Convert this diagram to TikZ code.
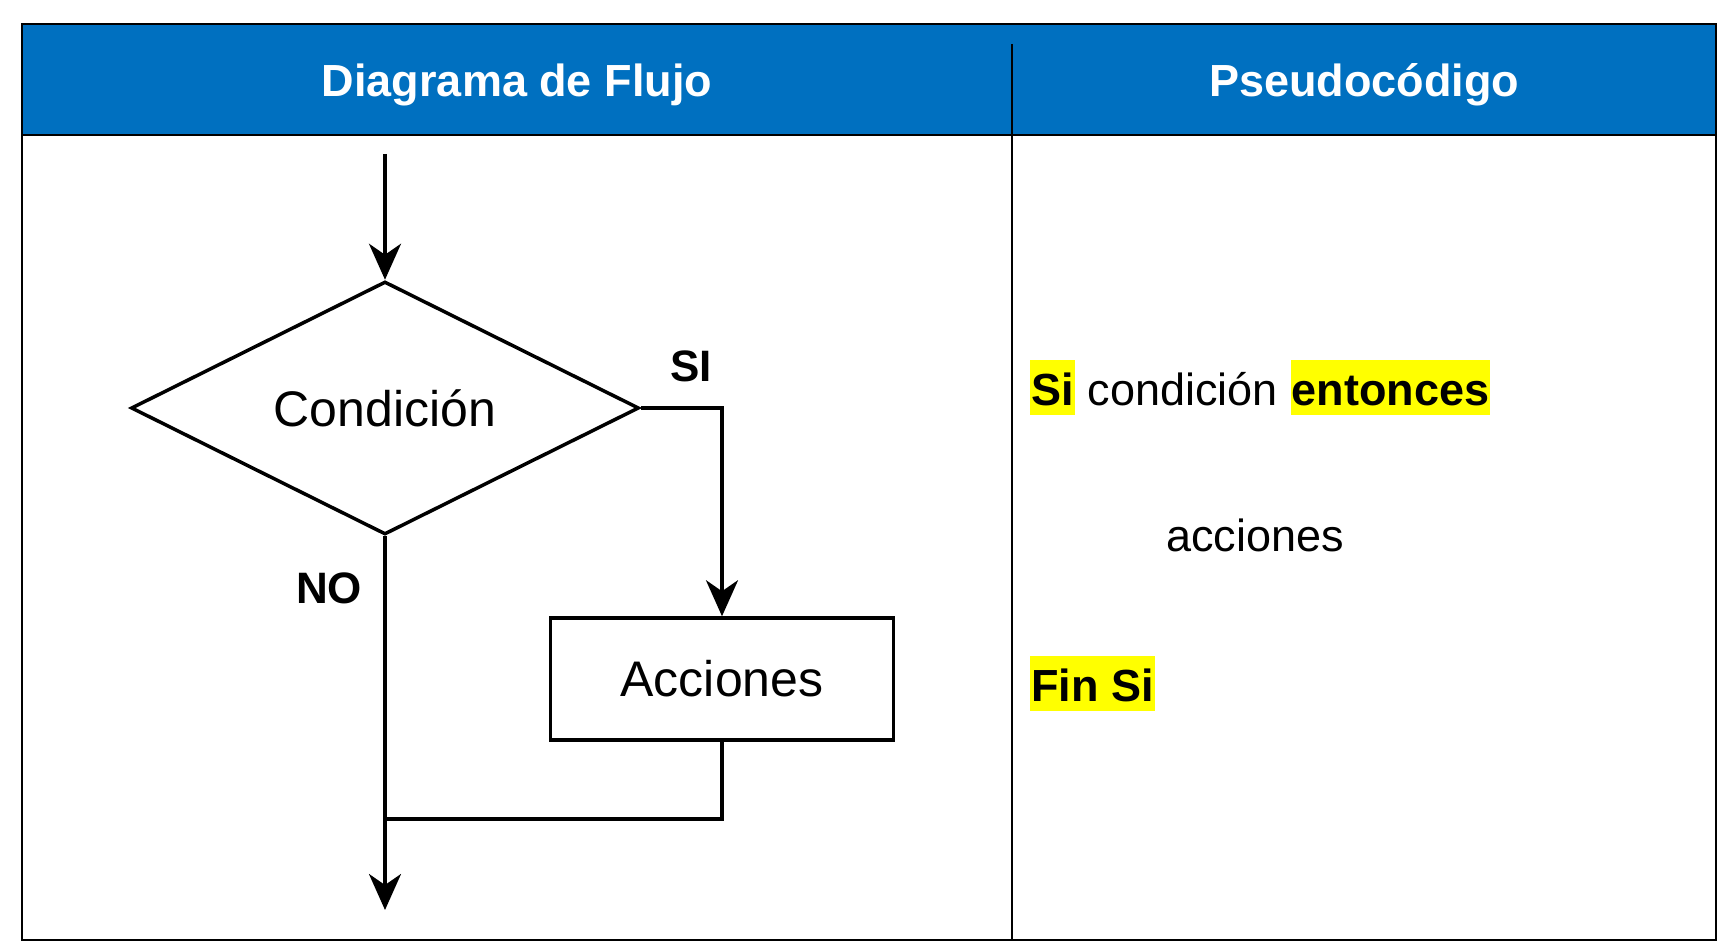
\documentclass[tikz,border=0pt]{standalone}
\usepackage{fontspec}
\setmainfont{Liberation Sans}
\usetikzlibrary{shapes.geometric, arrows.meta, positioning}
\definecolor{cabecera}{RGB}{0,112,192}
\definecolor{resalte}{RGB}{255,255,0}

\begin{document}
\begin{tikzpicture}[x = 1pt, y = -1pt]
    \tikzset{
        flecha/.style = {-{Stealth[length = 36pt, width = 32pt, inset = 11pt]}},
        linea/.style = {line width = 3.5pt},
        titulo/.style = {text = white, anchor = base, font = \fontsize{45}{54}\selectfont\bfseries},
        bloque/.style = {draw, line width = 3.5pt, font = \fontsize{50}{60}\selectfont},
        rama/.style = {font = \fontsize{44}{53}\selectfont\bfseries},
        pseudo/.style = {inner sep = 0pt, font = \fontsize{45}{54}\selectfont},
        resaltado/.style = {pseudo, fill = resalte, inner xsep = 1pt,
            text height = 45pt, text depth = 10pt, font = \fontsize{45}{54}\selectfont\bfseries}
    }
    \useasboundingbox (0, 0) rectangle (1730, 952);

    % tabla
    \fill[cabecera] (22, 24) rectangle (1716, 135);
    \draw[line width = 2pt] (22, 24) rectangle (1716, 940);
    \draw[line width = 2pt] (22, 135) -- (1716, 135);
    \draw[line width = 1.5pt] (1012, 44) -- (1012, 940);
    \node[titulo] (col-flujo) at (517, 97) {Diagrama de Flujo};
    \node[titulo] (col-pseudo) at (1364, 97) {Pseudocódigo};

    % diagrama de flujo
    \coordinate (inicio) at (385, 154);
    \node[bloque, diamond, aspect = 2, inner sep = 0pt,
        minimum width = 508pt, minimum height = 253pt] (condicion) at (385, 408) {Condición};
    \node[bloque, minimum width = 343pt, minimum height = 122pt] (acciones) at (722, 679) {Acciones};
    \coordinate (union) at (385, 819);
    \coordinate (salida) at (385, 910);

    \draw[linea, flecha] (inicio) -- (condicion.north);
    \draw[linea, flecha] (condicion.east) -| (acciones.north);
    \draw[linea] (acciones.south) |- (union);
    \draw[linea, flecha] (condicion.south) -- (salida);
    \node[rama] (etiqueta-si) at (691, 366) {SI};
    \node[rama] (etiqueta-no) at (329, 588) {NO};

    % pseudocodigo
    \node[resaltado, anchor = base west] (si) at (1030, 405) {Si};
    \node[pseudo, base right = 12.6pt of si] (cond-txt) {condición};
    \node[resaltado, base right = 12.6pt of cond-txt] (entonces) {entonces};
    \node[pseudo, anchor = base west] (acciones-txt) at (1166, 551) {acciones};
    \node[resaltado, anchor = base west] (fin-si) at (1030, 701) {Fin Si};
\end{tikzpicture}
\end{document}
